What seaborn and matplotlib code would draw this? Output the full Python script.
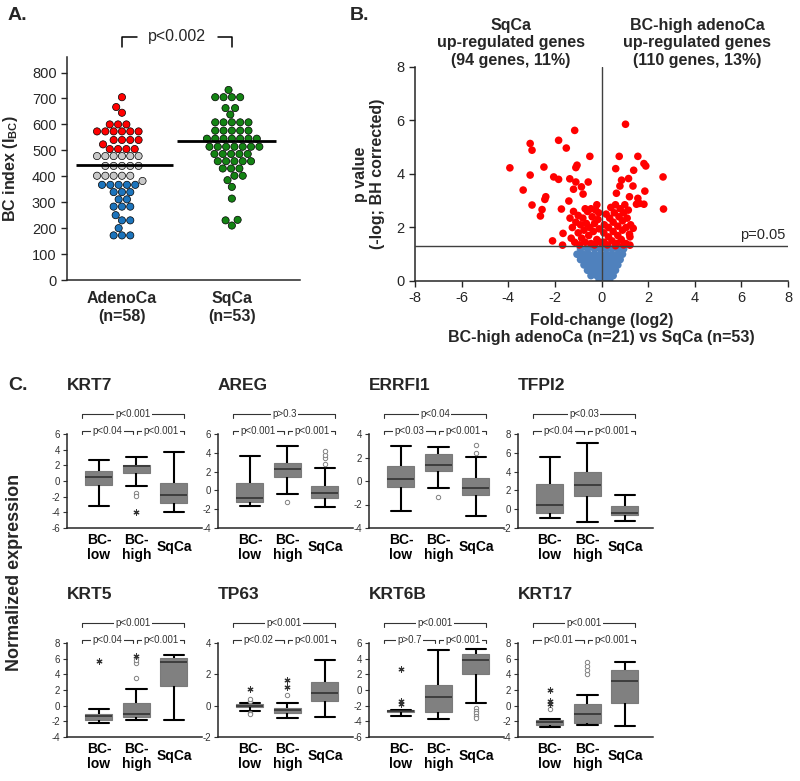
import numpy as np
import pandas as pd
import seaborn as sns
import matplotlib
matplotlib.use("Agg")
from matplotlib import pyplot as plt

# ---------------- panel A: BC index per tumour ----------------
cohorts = ["AdenoCa", "SqCa"]
cohort_labels = ["AdenoCa\n(n=58)", "SqCa\n(n=53)"]
adeno_bc_high = [705, 667, 645, 600, 600, 600, 573, 573, 573, 573, 573, 573,
                 540, 540, 540, 540, 523, 505, 505, 505, 505]
adeno_bc_mid = [478, 478, 478, 478, 478, 478, 440, 440, 440, 440, 440,
                402, 402, 402, 402, 402, 382]
adeno_bc_low = [367, 367, 367, 367, 367, 339, 339, 339, 311, 311, 283, 283, 283,
                250, 230, 230, 200, 172, 172, 172]
sqca_bc = [733, 705, 705, 705, 705, 663, 663, 638, 608, 608, 608, 608, 608,
           576, 576, 576, 576, 576, 545, 545, 545, 545, 545, 545, 545,
           514, 514, 514, 514, 514, 514, 514, 486, 486, 486, 486, 486,
           458, 458, 458, 458, 458, 430, 430, 430, 402, 402,
           385, 359, 314, 232, 230, 210]
adeno_mean = 445
sqca_mean = 536

# ---------------- panel B: volcano ----------------
volc_sq_up = [(-3.93, 4.23), (-3.36, 3.40), (-3.06, 5.14), (-2.98, 4.89), (-3.06, 3.96),
              (-2.98, 2.84), (-2.62, 2.43), (-2.55, 2.67), (-2.47, 4.26), (-2.43, 3.05),
              (-2.39, 3.15), (-2.10, 1.50), (-2.05, 3.89), (-1.84, 3.80), (-1.84, 5.26),
              (-1.72, 2.69), (-1.67, 1.34), (-1.65, 1.78), (-1.51, 4.97), (-1.40, 2.99),
              (-1.36, 3.82), (-1.20, 3.43), (-1.15, 5.63), (-1.10, 3.70), (-1.10, 4.24),
              (-1.05, 4.33), (-0.86, 3.52), (-0.79, 3.25), (-0.57, 3.70), (-0.50, 4.66),
              (-1.35, 2.35), (-1.25, 2.00), (-1.30, 1.60), (-1.15, 1.45), (-1.10, 2.20),
              (-1.00, 1.80), (-1.00, 2.45), (-0.95, 1.35), (-0.90, 2.10), (-0.85, 1.60),
              (-0.80, 2.35), (-0.75, 1.90), (-0.70, 1.45), (-0.65, 2.15), (-0.60, 2.60),
              (-0.55, 1.70), (-0.50, 2.00), (-0.45, 1.40), (-0.40, 2.40), (-0.35, 1.85),
              (-0.30, 2.15), (-0.25, 2.65), (-0.20, 1.55), (-0.15, 2.30), (-0.10, 1.95),
              (-0.20, 2.85), (-0.05, 1.45), (-0.45, 2.70), (-1.20, 2.60), (-0.70, 2.70),
              (-0.12, 2.55), (-0.30, 1.35)]
volc_bc_up = [(1.03, 5.86), (0.76, 4.66), (1.56, 4.66), (1.82, 4.39), (1.90, 4.30),
              (0.61, 4.20), (1.38, 4.14), (2.64, 3.89), (0.86, 3.77), (1.16, 3.83),
              (0.79, 3.55), (1.35, 3.55), (0.64, 3.28), (1.20, 3.15), (1.86, 3.36),
              (1.56, 3.09), (1.63, 2.90), (1.82, 2.87), (1.50, 2.87), (2.66, 2.69),
              (1.36, 1.97), (1.22, 1.65), (1.22, 1.34),
              (0.10, 1.45), (0.10, 1.80), (0.12, 2.10), (0.25, 1.35), (0.30, 1.65),
              (0.30, 2.00), (0.35, 2.35), (0.40, 2.75), (0.45, 1.50), (0.50, 1.85),
              (0.50, 2.20), (0.55, 2.55), (0.60, 2.85), (0.65, 1.40), (0.70, 1.70),
              (0.70, 2.05), (0.75, 2.40), (0.80, 2.70), (0.85, 1.55), (0.90, 1.90),
              (0.90, 2.25), (0.95, 2.55), (1.00, 2.85), (1.05, 1.40), (1.05, 2.00),
              (1.10, 2.35), (1.15, 2.65), (1.20, 1.75), (1.25, 2.10), (0.20, 2.50),
              (0.60, 1.32), (0.95, 1.35)]
volc_ns = [(-0.90, 1.20), (-0.60, 1.20), (-0.30, 1.20), (-0.05, 1.20), (0.20, 1.20),
           (0.45, 1.20), (0.70, 1.20), (0.95, 1.20),
           (-1.05, 1.00), (-0.80, 1.00), (-0.55, 1.00), (-0.30, 1.00), (-0.05, 1.00),
           (0.20, 1.00), (0.45, 1.00), (0.70, 1.00), (0.90, 1.00),
           (-0.90, 0.80), (-0.65, 0.80), (-0.40, 0.80), (-0.15, 0.80), (0.10, 0.80),
           (0.35, 0.80), (0.60, 0.80), (0.80, 0.80),
           (-0.75, 0.60), (-0.50, 0.60), (-0.25, 0.60), (0.00, 0.60), (0.25, 0.60),
           (0.50, 0.60), (0.70, 0.60),
           (-0.60, 0.40), (-0.35, 0.40), (-0.10, 0.40), (0.15, 0.40), (0.40, 0.40),
           (0.60, 0.40),
           (-0.45, 0.20), (-0.20, 0.20), (0.05, 0.20), (0.30, 0.20), (0.50, 0.20),
           (-0.10, 0.05), (0.15, 0.05), (0.35, 0.05), (0.00, 0.00)]

# ---------------- panel C: box plots ----------------
groups = ["BC-low", "BC-high", "SqCa"]
group_labels = ["BC-\nlow", "BC-\nhigh", "SqCa"]
genes = ["KRT7", "AREG", "ERRFI1", "TFPI2", "KRT5", "TP63", "KRT6B", "KRT17"]

# five-number summaries (low whisker, q1, median, q3, high whisker)
krt7_box = [[-3.23, -0.55, 0.45, 1.23, 2.64], [-0.6, 1.02, 1.96, 2.08, 3.06], [-4.0, -2.8, -1.74, -0.26, 3.66]]
areg_box = [[-1.63, -1.24, -0.85, 0.78, 3.62], [-0.39, 1.38, 2.3, 2.91, 4.68], [-1.81, -0.82, -0.28, 0.5, 2.41]]
errfi1_box = [[-2.52, -0.51, 0.17, 1.30, 2.95], [-0.6, 0.85, 1.33, 2.3, 2.89], [-3.0, -1.22, -0.62, 0.23, 2.04]]
tfpi2_box = [[-0.94, -0.40, 0.41, 2.71, 5.55], [-1.4, 1.44, 2.57, 3.95, 7.04], [-1.22, -0.65, -0.40, 0.3, 1.51]]
krt5_box = [[-2.2, -1.77, -1.34, -1.0, -0.48], [-1.86, -1.47, -1.0, 0.37, 2.17], [-1.86, 2.47, 5.63, 6.11, 6.5]]
tp63_box = [[-0.31, -0.07, 0.01, 0.12, 0.19], [-0.78, -0.46, -0.28, -0.13, 0.19], [-0.71, 0.29, 0.79, 1.51, 2.93]]
krt6b_box = [[-3.3, -2.87, -2.74, -2.61, -2.49], [-3.64, -2.87, -0.94, 0.64, 5.06], [-1.71, 2.06, 3.86, 4.63, 5.27]]
krt17_box = [[-2.69, -2.45, -2.12, -1.8, -1.71], [-2.53, -2.16, -1.02, 0.2, 1.39], [-2.57, 0.29, 3.14, 4.57, 5.59]]

# outliers: open circles and asterisks
krt7_open = [[], [-1.53, -1.96], []]
krt7_star = [[], [-3.9], []]
areg_open = [[], [-1.28], [2.84, 3.44, 3.8, 4.15]]
areg_star = [[], [], []]
errfi1_open = [[], [-1.36], [2.38, 3.04]]
errfi1_star = [[], [], []]
tfpi2_open = [[], [], []]
tfpi2_star = [[], [], []]
krt5_open = [[], [3.55, 5.4, 5.8], []]
krt5_star = [[5.72], [6.35], []]
tp63_open = [[0.29, 0.4, -0.46, -0.56], [0.66], []]
tp63_star = [[1.09], [1.19, 1.64], []]
krt6b_open = [[], [], [-2.36, -2.66, -2.96, -3.26, -3.56]]
krt6b_star = [[2.7, -1.37, -1.8], [], []]
krt17_open = [[-0.46], [4.04, 4.57, 5.06, 5.59], []]
krt17_star = [[1.98, 0.56, 0.23], [], []]

# p-values: (all three, low vs high, high vs SqCa)
krt7_p = ["p<0.001", "p<0.04", "p<0.001"]
areg_p = ["p>0.3", "p<0.001", "p<0.001"]
errfi1_p = ["p<0.04", "p<0.03", "p<0.001"]
tfpi2_p = ["p<0.03", "p<0.04", "p<0.001"]
krt5_p = ["p<0.001", "p<0.04", "p<0.001"]
tp63_p = ["p<0.001", "p<0.02", "p<0.001"]
krt6b_p = ["p<0.001", "p>0.7", "p<0.001"]
krt17_p = ["p<0.001", "p<0.01", "p<0.001"]

gene_box = dict(zip(genes, [krt7_box, areg_box, errfi1_box, tfpi2_box, krt5_box, tp63_box, krt6b_box, krt17_box]))
gene_open = dict(zip(genes, [krt7_open, areg_open, errfi1_open, tfpi2_open, krt5_open, tp63_open, krt6b_open, krt17_open]))
gene_star = dict(zip(genes, [krt7_star, areg_star, errfi1_star, tfpi2_star, krt5_star, tp63_star, krt6b_star, krt17_star]))
gene_p = dict(zip(genes, [krt7_p, areg_p, errfi1_p, tfpi2_p, krt5_p, tp63_p, krt6b_p, krt17_p]))
gene_ylim = {"KRT7": (-6, 6), "AREG": (-4, 6), "ERRFI1": (-4, 4), "TFPI2": (-2, 8),
             "KRT5": (-4, 8), "TP63": (-2, 4), "KRT6B": (-6, 6), "KRT17": (-4, 8)}

# ---------------- figure ----------------
sns.set_style("ticks")
plt.rcParams["font.family"] = ["Liberation Sans", "DejaVu Sans"]
plt.rcParams["axes.unicode_minus"] = False
plt.rcParams["mathtext.fontset"] = "custom"
plt.rcParams["mathtext.rm"] = "Liberation Sans"
plt.rcParams["mathtext.bf"] = "Liberation Sans:bold"
plt.rcParams["axes.linewidth"] = 1.1

W, H = 800, 781
fig = plt.figure(figsize=(W / 100, H / 100), dpi=100)


def px_axes(left, top, right, bottom):
    return fig.add_axes([left / W, 1 - bottom / H, (right - left) / W, (bottom - top) / H])


# ---- A ----
axA = px_axes(67, 57, 300, 280)
dfA = pd.DataFrame({
    "cohort": ["AdenoCa"] * (len(adeno_bc_high) + len(adeno_bc_mid) + len(adeno_bc_low)) + ["SqCa"] * len(sqca_bc),
    "grp": ["high"] * len(adeno_bc_high) + ["mid"] * len(adeno_bc_mid) + ["low"] * len(adeno_bc_low) + ["sq"] * len(sqca_bc),
    "bc": adeno_bc_high + adeno_bc_mid + adeno_bc_low + sqca_bc,
})
swarm_colors = {"high": "#ff0000", "mid": "#c8c8c8", "low": "#1c74bc", "sq": "#138313"}
sns.swarmplot(data=dfA, x="cohort", y="bc", hue="grp", order=cohorts,
              hue_order=["high", "mid", "low", "sq"], palette=swarm_colors,
              size=5.2, edgecolor="black", linewidth=0.5, legend=False, ax=axA)
axA.hlines([adeno_mean, sqca_mean], [-0.42, 0.5], [0.46, 1.4], color="black", lw=2, zorder=5)
axA.set_xlim(-0.5, 1.62)
axA.set_ylim(0, 860)
axA.set_yticks(np.arange(0, 801, 100))
axA.set_xticks([0, 1], labels=cohort_labels)
axA.tick_params(axis="x", length=0, pad=8, labelsize=11.5)
axA.tick_params(axis="y", length=4, width=1, labelsize=10.5)
for lab in axA.get_xticklabels():
    lab.set_fontweight("bold")
axA.set_xlabel("")
axA.set_ylabel(r"BC index (I$_{\mathbf{BC}}$)", fontsize=11.5, fontweight="bold")
axA.yaxis.set_label_coords(-0.2, 0.5)
sns.despine(ax=axA)
axA.plot([0, 0, 0.14], [897, 938, 938], color="black", lw=1.1, clip_on=False)
axA.plot([0.87, 1.0, 1.0], [938, 938, 897], color="black", lw=1.1, clip_on=False)
axA.text(0.5, 938, "p<0.002", ha="center", va="center", fontsize=11.5)
fig.text(8 / W, 1 - 15 / H, "A.", fontsize=14, fontweight="bold", va="center")

# ---- B ----
axB = px_axes(415, 67, 788, 281)
dfB = pd.DataFrame(volc_ns + volc_sq_up + volc_bc_up, columns=["fc", "logp"])
dfB["sig"] = ["no"] * len(volc_ns) + ["yes"] * (len(volc_sq_up) + len(volc_bc_up))
sns.scatterplot(data=dfB, x="fc", y="logp", hue="sig", hue_order=["no", "yes"],
                palette={"no": "#4f81bd", "yes": "#ff0000"}, s=30, linewidth=0,
                legend=False, ax=axB)
axB.axvline(0, color="#404040", lw=1, zorder=3)
axB.axhline(1.3, color="#404040", lw=1, zorder=3)
axB.set_xlim(-8, 8)
axB.set_ylim(0, 8)
axB.set_xticks(np.arange(-8, 9, 2))
axB.set_yticks(np.arange(0, 9, 2))
axB.tick_params(length=4, width=1, labelsize=10.5)
axB.set_xlabel("Fold-change (log2)\nBC-high adenoCa (n=21) vs SqCa (n=53)",
               fontsize=11.5, fontweight="bold")
axB.xaxis.set_label_coords(0.5, -0.15)
axB.set_ylabel("p value\n(-log; BH corrected)", fontsize=11.5, fontweight="bold")
axB.yaxis.set_label_coords(-0.08, 0.5)
sns.despine(ax=axB)
axB.text(-3.9, 8.9, "SqCa\nup-regulated genes\n(94 genes, 11%)", ha="center", va="center",
         fontsize=11.5, fontweight="bold", linespacing=1.2)
axB.text(4.1, 8.9, "BC-high adenoCa\nup-regulated genes\n(110 genes, 13%)", ha="center",
         va="center", fontsize=11.5, fontweight="bold", linespacing=1.2)
axB.text(6.9, 1.72, "p=0.05", ha="center", va="center", fontsize=10.5)
fig.text(350 / W, 1 - 15 / H, "B.", fontsize=14, fontweight="bold", va="center")

# ---- C ----
rows = []
for g in genes:
    for gi, grp in enumerate(groups):
        for v in gene_box[g][gi]:
            rows.append((g, grp, v))
dfC = pd.DataFrame(rows, columns=["gene", "group", "value"])

col_left = [67, 218, 369, 518]
row_top = [434, 643]
bw, bh = 135, 94


def bracket(ax, x0, x1, y, label, drop=0.035):
    tr = ax.get_xaxis_transform()
    ax.plot([x0, x0, x1, x1], [y - drop, y, y, y - drop], color="#333333", lw=0.8,
            transform=tr, clip_on=False)
    ax.text((x0 + x1) / 2, y, label, transform=tr, ha="center", va="center", fontsize=7,
            color="#333333", bbox=dict(facecolor="white", edgecolor="none", pad=1.0))


for k, g in enumerate(genes):
    r, c = divmod(k, 4)
    ax = px_axes(col_left[c], row_top[r], col_left[c] + bw, row_top[r] + bh)
    sns.boxplot(data=dfC[dfC.gene == g], x="group", y="value", order=groups,
                whis=(0, 100), width=0.72, color="#808080", saturation=1,
                linecolor="black", linewidth=1.5, capwidths=0.55,
                boxprops=dict(edgecolor="#7a7a7a", linewidth=0.8),
                medianprops=dict(color="#333333", linewidth=1.2), ax=ax)
    for gi in range(3):
        ov = gene_open[g][gi]
        if ov:
            ax.scatter([gi] * len(ov), ov, s=10, facecolors="white", edgecolors="#808080",
                       linewidths=0.7, zorder=4)
        sv = gene_star[g][gi]
        if sv:
            ax.scatter([gi] * len(sv), sv, s=14, marker=(6, 2, 0), color="#333333",
                       linewidths=0.8, zorder=4)
    lo, hi = gene_ylim[g]
    ax.set_ylim(lo, hi)
    ax.set_yticks(np.arange(lo, hi + 1, 2))
    ax.set_xlim(-0.85, 2.75)
    ax.set_xticks([0, 1, 2], labels=group_labels)
    ax.tick_params(axis="x", length=0, pad=14, labelsize=10)
    ax.tick_params(axis="y", length=3, width=0.8, labelsize=7, colors="#333333", pad=2)
    for lab in ax.get_xticklabels():
        lab.set_fontweight("bold")
        lab.set_va("center")
        lab.set_linespacing(1.05)
        lab.set_color("black")
    ax.set_xlabel("")
    ax.set_ylabel("")
    sns.despine(ax=ax)
    p_all, p_lh, p_hs = gene_p[g]
    bracket(ax, -0.45, 2.28, 1.21, p_all)
    bracket(ax, -0.45, 0.9, 1.035, p_lh)
    bracket(ax, 1.02, 2.28, 1.035, p_hs)
    ax.text(0, 1.52, g, transform=ax.transAxes, ha="left", va="center", fontsize=12.5,
            fontweight="bold")

fig.text(8 / W, 1 - 386 / H, "C.", fontsize=14, fontweight="bold", va="center")
fig.text(15 / W, 1 - 572 / H, "Normalized expression", rotation=90, fontsize=13,
         fontweight="bold", ha="center", va="center")

fig.savefig("out.png", dpi=100)
